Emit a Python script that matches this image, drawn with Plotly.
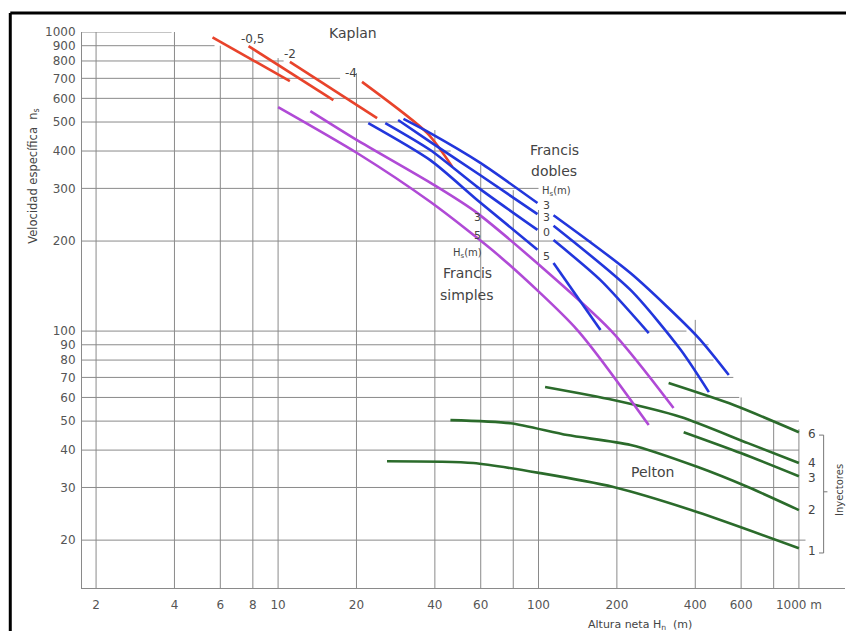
import numpy as np
import plotly.graph_objects as go

# ---------------- data (H in m, ns) ----------------
# Kaplan (red) lines, labelled by suction head Hs
kaplan_1_h = [5.6, 11.1]
kaplan_1_n = [960, 685]
kaplan_05_h = [7.7, 16.3]
kaplan_05_n = [897, 592]
kaplan_2_h = [11.1, 24.0]
kaplan_2_n = [794, 515]
kaplan_4_h = [21.0, 37.4, 46.7]
kaplan_4_n = [681, 459, 354]

# Francis simples (purple)
fs_5_h = [10, 20.1, 38.5, 71.4, 141, 265]
fs_5_n = [561, 394, 270, 177, 100.8, 48.5]
fs_3_h = [13.3, 20.1, 38.5, 58.2, 189, 330]
fs_3_n = [544, 435, 313, 248, 100.8, 55.3]

# Francis dobles (blue), each split where its Hs label sits
fd_a1_h = [22.2, 38.4, 58.3, 99.1]
fd_a1_n = [496, 373, 274, 187]
fd_a2_h = [114.2, 173]
fd_a2_n = [169, 100.8]
fd_b1_h = [25.8, 38.4, 58.3, 99.1]
fd_b1_n = [496, 403, 303, 218]
fd_b2_h = [114.2, 173, 265]
fd_b2_n = [201.5, 148, 98.5]
fd_c1_h = [28.9, 38.4, 59.8, 99.1]
fd_c1_n = [508, 429, 332, 246]
fd_c2_h = [114.2, 226, 352, 451]
fd_c2_n = [225, 137, 86.4, 62.5]
fd_d1_h = [30.3, 38.4, 59.8, 99.1]
fd_d1_n = [512, 459, 365, 268]
fd_d2_h = [114.2, 226, 409, 538]
fd_d2_n = [244, 156, 95.5, 71.3]

# Pelton (green), by number of injectors
pel_1_h = [26.2, 56.2, 101.8, 194, 409, 1000]
pel_1_n = [36.7, 36.2, 33.5, 30.1, 24.8, 18.8]
pel_2_h = [45.9, 78, 129, 226, 409, 637, 1000]
pel_2_n = [50.4, 49.2, 44.9, 41.6, 35.1, 30.1, 25.2]
pel_3_h = [361, 598, 1000]
pel_3_n = [45.9, 39.1, 32.7]
pel_4_h = [106, 194, 352, 637, 1000]
pel_4_n = [65, 58.8, 51.6, 42.2, 36.2]
pel_6_h = [316, 562, 1000]
pel_6_n = [67, 56.6, 45.9]

# tick labels
x_tick_vals = [2, 4, 6, 8, 10, 20, 40, 60, 100, 200, 400, 600, 1000]
x_tick_text = ["2", "4", "6", "8", "10", "20", "40", "60", "100", "200", "400", "600", "1000 m"]
y_tick_vals = [20, 30, 40, 50, 60, 70, 80, 90, 100, 200, 300, 400, 500, 600, 700, 800, 900, 1000]
y_tick_text = [str(v) for v in y_tick_vals]

# partial grid (value, extent end)
hgrid_n = [1000, 900, 800, 700, 600, 500, 400, 300, 200, 100, 90, 80, 70, 60, 50, 40, 30, 20]
hgrid_end_h = [3.9, 5.7, 10.5, 17.3, 24.7, 29.5, 46, 100, 160, 370, 450, 470, 560, 590, 1000, 1000, 1000, 1060]
vgrid_h = [2, 4, 6, 8, 10, 20, 40, 60, 80, 100, 200, 400, 600, 800, 1000]
vgrid_top_n = [1000, 1000, 900, 871, 818, 729, 470, 359, 296, 254, 166, 109, 60, 50, 47]

RED = "#e8432b"
PURPLE = "#b04ad6"
BLUE = "#2236dc"
GREEN = "#2b6b2b"
TXT = "#444444"
GRID = "#8a8a8a"
FONT = "DejaVu Sans"

fig = go.Figure()

# grid lines as traces (under curves)
for n, hend in zip(hgrid_n, hgrid_end_h):
    fig.add_trace(go.Scatter(x=[1.5, hend], y=[n, n], mode="lines",
                             line=dict(color=GRID, width=1), hoverinfo="skip", showlegend=False))
for h, ntop in zip(vgrid_h, vgrid_top_n):
    fig.add_trace(go.Scatter(x=[h, h], y=[ntop, 10], mode="lines",
                             line=dict(color=GRID, width=1), hoverinfo="skip", showlegend=False))

def curve(x, y, color, width=2.6):
    fig.add_trace(go.Scatter(x=x, y=y, mode="lines",
                             line=dict(color=color, width=width, shape="spline", smoothing=0.7),
                             hoverinfo="skip", showlegend=False))

for xs, ys in [(pel_1_h, pel_1_n), (pel_2_h, pel_2_n), (pel_3_h, pel_3_n), (pel_4_h, pel_4_n), (pel_6_h, pel_6_n)]:
    curve(xs, ys, GREEN)
for xs, ys in [(fs_5_h, fs_5_n), (fs_3_h, fs_3_n)]:
    curve(xs, ys, PURPLE)
for xs, ys in [(kaplan_1_h, kaplan_1_n), (kaplan_05_h, kaplan_05_n), (kaplan_2_h, kaplan_2_n), (kaplan_4_h, kaplan_4_n)]:
    curve(xs, ys, RED)
for xs, ys in [(fd_a1_h, fd_a1_n), (fd_a2_h, fd_a2_n), (fd_b1_h, fd_b1_n), (fd_b2_h, fd_b2_n),
               (fd_c1_h, fd_c1_n), (fd_c2_h, fd_c2_n), (fd_d1_h, fd_d1_n), (fd_d2_h, fd_d2_n)]:
    curve(xs, ys, BLUE)

L = np.log10
ann = []
def txt(x, y, s, size=12, **kw):
    ann.append(dict(x=L(x), y=L(y), xref="x", yref="y", text=s, showarrow=False,
                    xanchor="center", yanchor="middle",
                    font=dict(family=FONT, size=size, color=TXT), **kw))

txt(5.1, 1016, "(H<sub>s</sub>= 1 m)", 11)
txt(8.0, 948, "-0,5", 12)
txt(11.1, 843, "-2", 12)
txt(19.1, 729, "-4", 12)
txt(19.4, 993, "Kaplan", 14)
txt(115, 403, "Francis", 14)
txt(115, 343, "dobles", 14)
txt(117, 294, "H<sub>s</sub>(m)", 10)
txt(107, 262, "3", 11)
txt(107, 240, "3", 11)
txt(107, 213, "0", 11)
txt(107, 178, "5", 11)
txt(58.2, 240, "3", 11)
txt(58.2, 209, "5", 11)
txt(53.3, 182, "H<sub>s</sub>(m)", 10)
txt(53.3, 156, "Francis", 14)
txt(53.3, 132, "simples", 14)
txt(274, 33.7, "Pelton", 14)
for v, yy in zip(["6", "4", "3", "2", "1"], [45.3, 36.2, 32.2, 25.2, 18.4]):
    txt(1120, yy, v, 12)
txt(1425, 29.4, "Inyectores", 10, textangle=-90)

# axis titles
ann.append(dict(x=-0.064, y=0.74, xref="paper", yref="paper", text="Velocidad específica  n<sub>s</sub>",
                textangle=-90, showarrow=False, xanchor="center", yanchor="middle",
                font=dict(family=FONT, size=11.5, color=TXT)))
ann.append(dict(x=0.731, y=-0.066, xref="paper", yref="paper", text="Altura neta H<sub>n</sub>  (m)",
                showarrow=False, xanchor="center", yanchor="middle",
                font=dict(family=FONT, size=11, color=TXT)))

shapes = []
# outer frame (top, left, right)
for x0, y0, x1, y1 in [(-0.094, 1.034, 1.004, 1.034), (-0.094, 1.034, -0.094, -0.1), (1.004, 1.034, 1.004, -0.1)]:
    shapes.append(dict(type="line", xref="paper", yref="paper", x0=x0, y0=y0, x1=x1, y1=y1,
                       line=dict(color="black", width=3)))
# injector bracket
for x0, y0, x1, y1 in [(0.966, 0.275, 0.972, 0.275), (0.972, 0.275, 0.972, 0.063),
                       (0.966, 0.063, 0.972, 0.063), (0.972, 0.173, 0.977, 0.173)]:
    shapes.append(dict(type="line", xref="paper", yref="paper", x0=x0, y0=y0, x1=x1, y1=y1,
                       line=dict(color="#777", width=1)))

# page body has an 8px margin: size and margins compensate so the plot area sits at 82..845 x 32..588
fig.update_layout(
    width=846, height=623,
    margin=dict(l=74, r=9, t=24, b=43),
    paper_bgcolor="white", plot_bgcolor="white",
    font=dict(family=FONT, size=12, color="#555"),
    annotations=ann, shapes=shapes,
    xaxis=dict(type="log", range=[0.247, 3.177], showgrid=False, zeroline=False,
               tickvals=x_tick_vals, ticktext=x_tick_text, ticks="", showline=True,
               linecolor=GRID, linewidth=1, tickfont=dict(size=12, color="#555"),
               ticklabelstandoff=6),
    yaxis=dict(type="log", range=[1.141, 3.0], showgrid=False, zeroline=False,
               tickvals=y_tick_vals, ticktext=y_tick_text, ticks="", showline=True,
               linecolor=GRID, linewidth=1, tickfont=dict(size=12, color="#555"),
               ticklabelstandoff=3),
)

fig.write_html("out.html")
